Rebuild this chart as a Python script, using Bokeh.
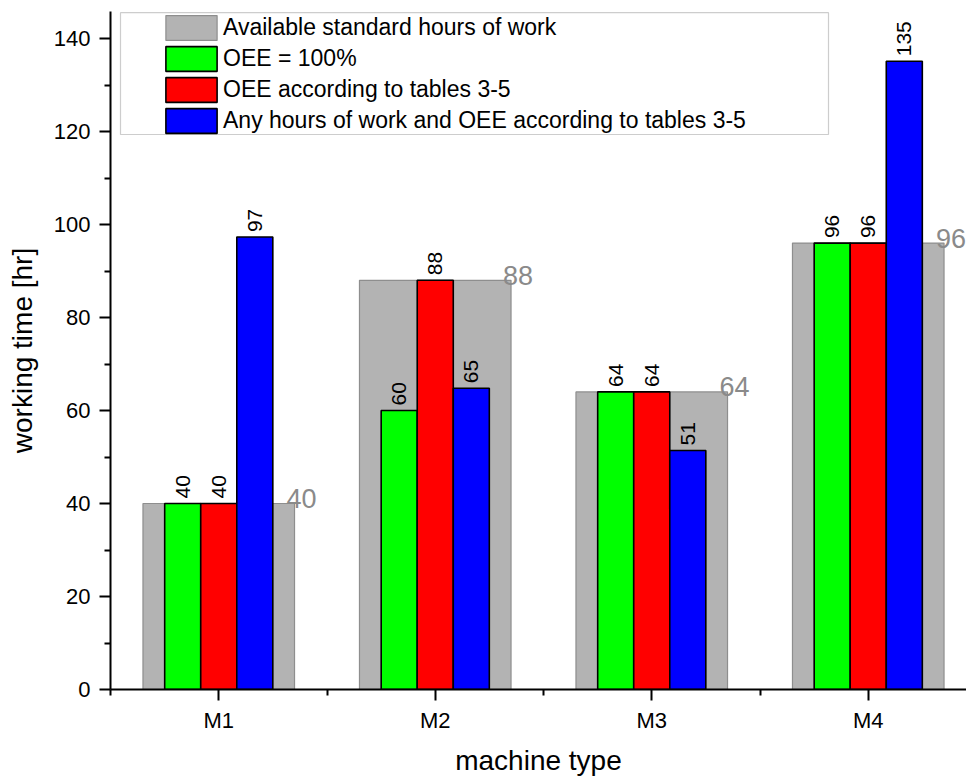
import math
from bokeh.plotting import figure
from bokeh.models import (ColumnDataSource, FixedTicker, Range1d, Legend,
                          LegendItem, BoxAnnotation)
from bokeh.transform import dodge
from bokeh.core.properties import value
from bokeh.embed import file_html
from bokeh.resources import INLINE

# ---------------- data ----------------
machines = ["M1", "M2", "M3", "M4"]
available_hours = [40, 88, 64, 96]
oee_100 = [40, 60, 64, 96]
oee_tables = [40, 88, 64, 96]
any_hours_oee = [97.3, 64.8, 51.4, 135.1]
y_ticks = [0, 20, 40, 60, 80, 100, 120, 140]
y_minor = [10, 30, 50, 70, 90, 110, 130]
series_names = ["Available standard hours of work",
                "OEE = 100%",
                "OEE according to tables 3-5",
                "Any hours of work and OEE according to tables 3-5"]

FONT = "Liberation Sans"
positions = list(range(1, len(machines) + 1))

src = ColumnDataSource(dict(
    x=positions,
    avail=available_hours, green=oee_100, red=oee_tables, blue=any_hours_oee,
    avail_lbl=[str(round(v)) for v in available_hours],
    green_lbl=[str(round(v)) for v in oee_100],
    red_lbl=[str(round(v)) for v in oee_tables],
    blue_lbl=[str(round(v)) for v in any_hours_oee],
))

# ---------------- layout ----------------
W, H = 966, 778
BL, BT, BB = 110, 11, 89
frame_w = W - BL
frame_h = H - BT - BB
px_per_cat = 216.5
px_per_unit = 4.65
x_end = 0.5 + frame_w / px_per_cat
y_end = frame_h / px_per_unit

p = figure(width=W, height=H, output_backend="svg", toolbar_location=None,
           x_range=Range1d(0.5, x_end), y_range=Range1d(0, y_end),
           min_border_left=BL, min_border_top=BT, min_border_bottom=BB,
           min_border_right=0)
p.outline_line_color = None
p.xgrid.visible = False
p.ygrid.visible = False
p.background_fill_color = "white"
p.border_fill_color = "white"

# legend box (drawn first, so it sits under the legend items)
box = BoxAnnotation(left=0.5 + 10 / px_per_cat, right=0.5 + 718 / px_per_cat,
                    top=y_end - 0.25, bottom=(frame_h - 123) / px_per_unit,
                    fill_color="white", fill_alpha=1.0,
                    line_color="#5a5a5a", line_width=1.2, level="overlay")

bw = 0.1665
r_avail = p.vbar(x="x", top="avail", width=0.70, source=src,
                 fill_color="#b3b3b3", line_color="#8e8e8e", line_width=1.2)
r_green = p.vbar(x=dodge("x", -bw), top="green", width=bw, source=src,
                 fill_color="#00ff00", line_color="black", line_width=1.6)
r_red = p.vbar(x=dodge("x", 0.0), top="red", width=bw, source=src,
               fill_color="#ff0000", line_color="black", line_width=1.6)
r_blue = p.vbar(x=dodge("x", bw), top="blue", width=bw, source=src,
                fill_color="#0000ff", line_color="black", line_width=1.6)

# rotated value labels
for off, col in [(-bw, "green"), (0.0, "red"), (bw, "blue")]:
    p.text(x=dodge("x", off), y=col, text=col + "_lbl", source=src,
           angle=math.pi / 2, text_align="left", text_baseline="middle",
           y_offset=-5, text_font=value(FONT), text_font_size="21px",
           text_color="black")

# grey labels of available hours
p.text(x=dodge("x", 0.35), y="avail", text="avail_lbl", source=src,
       x_offset=-8, y_offset=-5, text_align="left", text_baseline="alphabetic",
       text_font=value(FONT), text_font_size="27px", text_color="#8a8a8a")

# ---------------- axes ----------------
xa = p.xaxis[0]
xa.ticker = FixedTicker(ticks=positions,
                        minor_ticks=[v - 0.5 for v in positions] + [positions[-1] + 0.5])
xa.major_label_overrides = {pos: m for pos, m in zip(positions, machines)}
xa.axis_label = "machine type"

ya = p.yaxis[0]
ya.ticker = FixedTicker(ticks=y_ticks, minor_ticks=y_minor)
ya.axis_label = "working time [hr]"

for ax in (xa, ya):
    ax.axis_line_width = 2
    ax.axis_line_color = "black"
    ax.major_tick_line_width = 2
    ax.minor_tick_line_width = 2
    ax.major_tick_in = 0
    ax.minor_tick_in = 0
    ax.major_tick_out = 11
    ax.minor_tick_out = 6
    ax.major_label_text_font = FONT
    ax.major_label_text_font_size = "22px"
    ax.major_label_text_color = "black"
    ax.axis_label_text_font = FONT
    ax.axis_label_text_font_size = "28px"
    ax.axis_label_text_font_style = "normal"
    ax.axis_label_text_color = "black"

xa.major_label_standoff = 7
xa.axis_label_standoff = 9
ya.major_label_standoff = 9
ya.axis_label_standoff = 13

p.add_layout(box)

GW, GH, SP = 64, 31, -3
leg_h = 4 * GH + 3 * SP
legend = Legend(items=[
    LegendItem(label=series_names[0], renderers=[r_avail]),
    LegendItem(label=series_names[1], renderers=[r_green]),
    LegendItem(label=series_names[2], renderers=[r_red]),
    LegendItem(label=series_names[3], renderers=[r_blue]),
], location=(49, frame_h - 10 - leg_h), padding=0, margin=0, spacing=SP,
    glyph_width=GW, glyph_height=GH, label_height=GH, label_standoff=0,
    label_text_font=FONT, label_text_font_size="23px", label_text_color="black",
    background_fill_alpha=0, border_line_color=None)
p.add_layout(legend, "center")

open("out.html", "w").write(file_html(p, INLINE))
